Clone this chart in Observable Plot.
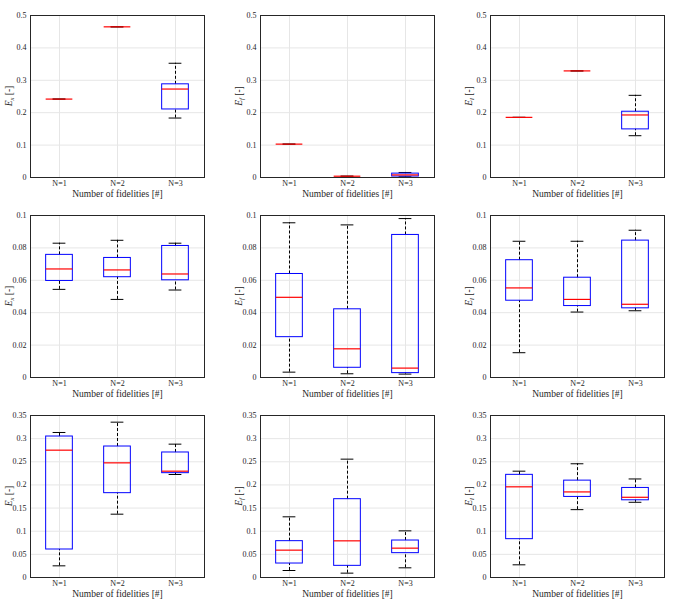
<!DOCTYPE html>
<html>
<head>
<meta charset="utf-8">
<script src="https://cdn.jsdelivr.net/npm/d3@7"></script>
<script src="https://cdn.jsdelivr.net/npm/@observablehq/plot@0.6"></script>
<style>
  html, body { margin: 0; padding: 0; background: #ffffff; }
  #chart { position: relative; width: 685px; height: 599px; background: #ffffff; overflow: hidden; }
  #chart > div, #chart > svg { position: absolute; }
</style>
</head>
<body>
<div id="chart"></div>
<script>
// Categories (x positions 1..3)
const categories = ["N=1", "N=2", "N=3"];
const xTitle = "Number of fidelities [#]";

// Y tick labels per row
const ticksRow1 = [0, 0.1, 0.2, 0.3, 0.4, 0.5];
const ticksRow2 = [0, 0.02, 0.04, 0.06, 0.08, 0.1];
const ticksRow3 = [0, 0.05, 0.1, 0.15, 0.2, 0.25, 0.3, 0.35];

// Box statistics per category: [lower whisker, Q1, median, Q3, upper whisker]
// Row 1
const r1_Ex = [[0.242, 0.242, 0.242, 0.242, 0.242], [0.465, 0.465, 0.465, 0.465, 0.465], [0.1835, 0.210, 0.273, 0.2876, 0.3526]];
const r1_Ef = [[0.103, 0.103, 0.103, 0.103, 0.103], [0.004, 0.004, 0.004, 0.004, 0.004], [0.002, 0.003, 0.008, 0.012, 0.0155]];
const r1_El = [[0.1856, 0.1856, 0.1856, 0.1856, 0.1856], [0.329, 0.329, 0.329, 0.329, 0.329], [0.129, 0.1485, 0.193, 0.203, 0.2536]];
// Row 2
const r2_Ex = [[0.0544, 0.0596, 0.0670, 0.0757, 0.0829], [0.0482, 0.0619, 0.0664, 0.0738, 0.0847], [0.0540, 0.0600, 0.0639, 0.0812, 0.0829]];
const r2_Ef = [[0.0033, 0.0249, 0.0495, 0.0639, 0.0955], [0.0023, 0.0060, 0.0177, 0.0421, 0.0942], [0.0021, 0.0027, 0.0058, 0.0880, 0.0981]];
const r2_El = [[0.0153, 0.0474, 0.0553, 0.0724, 0.0841], [0.0404, 0.0441, 0.0482, 0.0616, 0.0841], [0.0412, 0.0427, 0.0452, 0.0845, 0.0909]];
// Row 3
const r3_Ex = [[0.0252, 0.0605, 0.2751, 0.3046, 0.3133], [0.1368, 0.1822, 0.2477, 0.2830, 0.3356], [0.2225, 0.2254, 0.2297, 0.2701, 0.2881]];
const r3_Ef = [[0.0151, 0.0302, 0.0591, 0.0785, 0.1311], [0.0094, 0.0252, 0.0792, 0.1692, 0.2557], [0.0209, 0.0526, 0.0634, 0.0799, 0.1008]];
const r3_El = [[0.0274, 0.0828, 0.1959, 0.2218, 0.2297], [0.1466, 0.1741, 0.1849, 0.2093, 0.2457], [0.1625, 0.1668, 0.1733, 0.1935, 0.2129]];

const panels = [
  {stats: r1_Ex, ticks: ticksRow1, sub: "x", row: 0, col: 0},
  {stats: r1_Ef, ticks: ticksRow1, sub: "f", row: 0, col: 1},
  {stats: r1_El, ticks: ticksRow1, sub: "l", row: 0, col: 2},
  {stats: r2_Ex, ticks: ticksRow2, sub: "x", row: 1, col: 0},
  {stats: r2_Ef, ticks: ticksRow2, sub: "f", row: 1, col: 1},
  {stats: r2_El, ticks: ticksRow2, sub: "l", row: 1, col: 2},
  {stats: r3_Ex, ticks: ticksRow3, sub: "x", row: 2, col: 0},
  {stats: r3_Ef, ticks: ticksRow3, sub: "f", row: 2, col: 1},
  {stats: r3_El, ticks: ticksRow3, sub: "l", row: 2, col: 2}
];

// Layout
const colLeft = [30, 260, 490];
const rowTop = [15, 215, 415];
const plotW = 174, plotH = 162;
const mL = 30, mR = 8, mT = 10, mB = 30;
const boxHalf = 0.23, capHalf = 0.11;
const FONT = "'Liberation Serif', 'DejaVu Serif', serif";

const chart = document.getElementById("chart");
const fmt = d3.format("~g");

for (const p of panels) {
  const rows = p.stats.map((s, i) => ({x: i + 1, lo: s[0], q1: s[1], med: s[2], q3: s[3], hi: s[4]}));
  const ymax = p.ticks[p.ticks.length - 1];
  const svg = Plot.plot({
    width: plotW + mL + mR,
    height: plotH + mT + mB,
    marginLeft: mL, marginRight: mR, marginTop: mT, marginBottom: mB,
    style: {fontFamily: FONT, fontSize: "8px", background: "transparent", color: "#262626"},
    x: {domain: [0.5, 3.5]},
    y: {domain: [0, ymax]},
    marks: [
      Plot.gridY(p.ticks, {stroke: "#e6e6e6", strokeOpacity: 1}),
      Plot.gridX([1, 2, 3], {stroke: "#e6e6e6", strokeOpacity: 1}),
      Plot.axisY(p.ticks, {tickSize: 0, tickPadding: 4, tickFormat: fmt, label: null}),
      Plot.axisX([1, 2, 3], {tickSize: 0, tickPadding: 3, tickFormat: d => categories[d - 1], label: null}),
      Plot.ruleX(rows, {x: "x", y1: "q3", y2: "hi", stroke: "black", strokeWidth: 1, strokeDasharray: "3,2"}),
      Plot.ruleX(rows, {x: "x", y1: "lo", y2: "q1", stroke: "black", strokeWidth: 1, strokeDasharray: "3,2"}),
      Plot.ruleY(rows, {y: "hi", x1: d => d.x - capHalf, x2: d => d.x + capHalf, stroke: "black", strokeWidth: 1}),
      Plot.ruleY(rows, {y: "lo", x1: d => d.x - capHalf, x2: d => d.x + capHalf, stroke: "black", strokeWidth: 1}),
      Plot.rect(rows, {x1: d => d.x - boxHalf, x2: d => d.x + boxHalf, y1: "q1", y2: "q3", stroke: "#0000ff", fill: "none", strokeWidth: 1}),
      Plot.ruleY(rows, {y: "med", x1: d => d.x - boxHalf, x2: d => d.x + boxHalf, stroke: "#ff0000", strokeWidth: 1.2}),
      Plot.frame({stroke: "#262626", strokeWidth: 1}),
      Plot.text([xTitle], {frameAnchor: "bottom", lineAnchor: "middle", dy: 16, fontSize: 9.5, fill: "#262626", fontFamily: FONT})
    ]
  });
  svg.style.left = (colLeft[p.col] - mL) + "px";
  svg.style.top = (rowTop[p.row] - mT) + "px";
  svg.style.position = "absolute";
  chart.appendChild(svg);

  // Y-axis label with italic E and subscript
  const lab = d3.select(svg).append("text")
    .attr("transform", `translate(${12},${mT + plotH / 2}) rotate(-90)`)
    .attr("text-anchor", "middle")
    .attr("font-family", FONT)
    .attr("font-size", 9.5)
    .attr("fill", "#262626");
  lab.append("tspan").attr("font-style", "italic").text("E");
  lab.append("tspan").attr("font-style", "italic").attr("font-size", 6.5).attr("dy", 2).text(p.sub);
  lab.append("tspan").attr("dy", -2).text(" [-]");
}
</script>
</body>
</html>
